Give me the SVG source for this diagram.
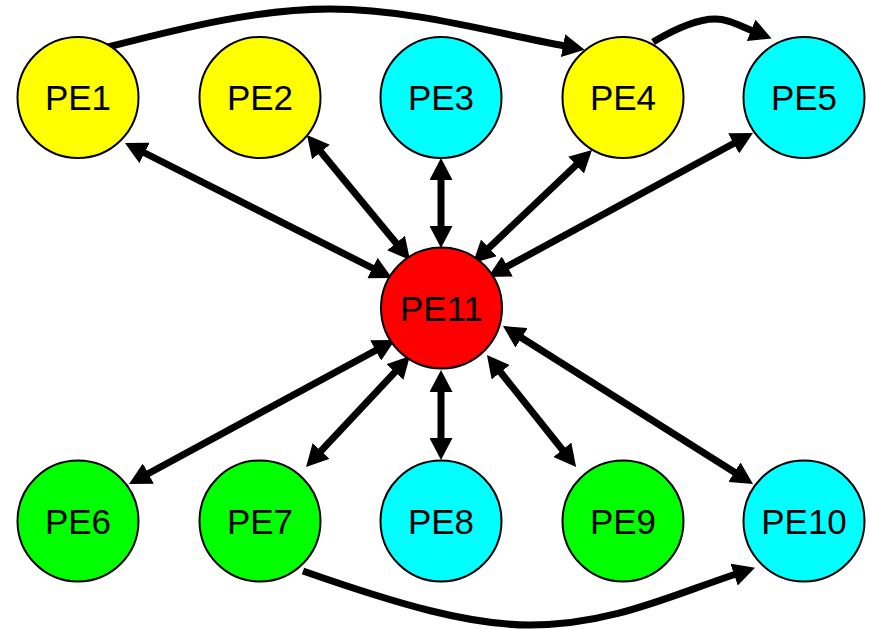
<svg xmlns="http://www.w3.org/2000/svg" width="872" height="629" viewBox="0 0 872 629">
  <style>
    .node circle { stroke: #000; stroke-width: 2; }
    .node text { font-family: "Liberation Sans", Arial, sans-serif; font-size: 35px; text-anchor: middle; fill: #000; }
    .yellow { fill: #ffff00; }
    .cyan { fill: #00ffff; }
    .green { fill: #00ff00; }
    .red { fill: #ff0000; }
    .edge { fill: none; stroke: #000; stroke-width: 7; }
    .both { marker-start: url(#head); marker-end: url(#head); }
    .one { marker-end: url(#head); }
  </style>
  <defs>
    <marker id="head" markerUnits="userSpaceOnUse" markerWidth="22" markerHeight="23" viewBox="0 0 22 23" refX="2" refY="11.5" orient="auto-start-reverse">
      <path d="M0,0 L22,11.5 L0,23 z" fill="#000"/>
    </marker>
  </defs>
  <rect width="872" height="629" fill="#fff"/>

  <g id="connectors">
    <!-- hub links -->
    <line class="edge both" x1="142.8" y1="152.0" x2="374.2" y2="269.0"/>
    <line class="edge both" x1="319.7" y1="150.4" x2="397.3" y2="244.6"/>
    <line class="edge both" x1="441" y1="178" x2="441" y2="228"/>
    <line class="edge both" x1="577.5" y1="163.8" x2="487.5" y2="249.2"/>
    <line class="edge both" x1="735.4" y1="142.5" x2="505.6" y2="267.4"/>
    <line class="edge both" x1="146.6" y1="474.5" x2="377.4" y2="349.5"/>
    <line class="edge both" x1="319.7" y1="452.4" x2="396.3" y2="370.6"/>
    <line class="edge both" x1="441" y1="440" x2="441" y2="390"/>
    <line class="edge both" x1="563.6" y1="451.3" x2="499.4" y2="370.7"/>
    <line class="edge both" x1="736.1" y1="473.3" x2="519.9" y2="336.7"/>
    <!-- curved one-way links -->
    <path class="edge one" d="M108,47 C190,26 260,9 330,9 C410,9 490,32 565,46"/>
    <path class="edge one" d="M653,42 C680,26 700,19 715,19 C728,19 738,25 753,31"/>
    <path class="edge one" d="M303,571 C400,605 470,625 530,625 C610,625 670,596 736,574"/>
  </g>

  <g id="PE1" class="node"><circle class="yellow" cx="78" cy="97.5" r="60.5"/><text x="78" y="110">PE1</text></g>
  <g id="PE2" class="node"><circle class="yellow" cx="260" cy="97.5" r="60.5"/><text x="260" y="110">PE2</text></g>
  <g id="PE3" class="node"><circle class="cyan" cx="441" cy="97.5" r="60.5"/><text x="441" y="110">PE3</text></g>
  <g id="PE4" class="node"><circle class="yellow" cx="623" cy="97.5" r="60.5"/><text x="623" y="110">PE4</text></g>
  <g id="PE5" class="node"><circle class="cyan" cx="804" cy="97.5" r="60.5"/><text x="804" y="110">PE5</text></g>
  <g id="PE11" class="node"><circle class="red" cx="441.5" cy="308" r="60.5"/><text x="441.5" y="320.5">PE11</text></g>
  <g id="PE6" class="node"><circle class="green" cx="78" cy="521" r="60.5"/><text x="78" y="533.5">PE6</text></g>
  <g id="PE7" class="node"><circle class="green" cx="260" cy="521" r="60.5"/><text x="260" y="533.5">PE7</text></g>
  <g id="PE8" class="node"><circle class="cyan" cx="441" cy="521" r="60.5"/><text x="441" y="533.5">PE8</text></g>
  <g id="PE9" class="node"><circle class="green" cx="623" cy="521" r="60.5"/><text x="623" y="533.5">PE9</text></g>
  <g id="PE10" class="node"><circle class="cyan" cx="804" cy="521" r="60.5"/><text x="804" y="533.5">PE10</text></g>
</svg>
